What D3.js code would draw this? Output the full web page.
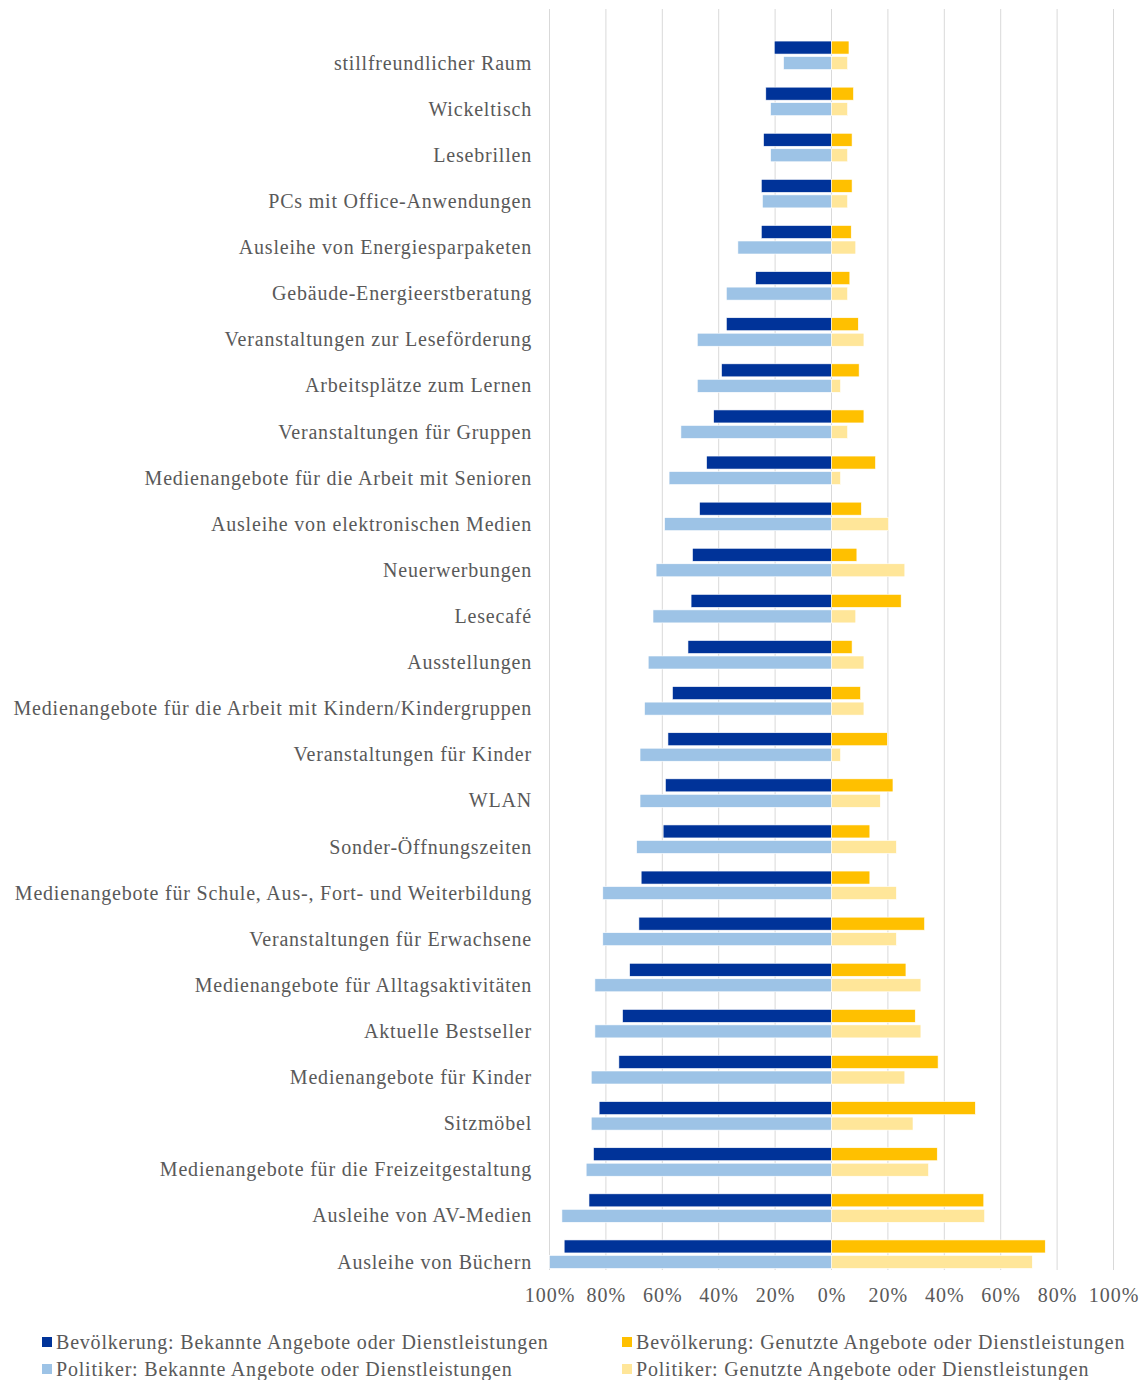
<!DOCTYPE html>
<html>
<head>
  <meta charset="utf-8">
  <title>Angebote und Dienstleistungen</title>
  <script src="https://d3js.org/d3.v7.min.js"></script>
  <style>
    body { margin: 0; background: #fff; }
    svg text { font-family: "Liberation Serif", "Times New Roman", serif; fill: #595959; letter-spacing: 0.8px; }
  </style>
</head>
<body>
  <svg width="1148" height="1380"></svg>
</body>
<script>

const categories = [
  'stillfreundlicher Raum',
  'Wickeltisch',
  'Lesebrillen',
  'PCs mit Office-Anwendungen',
  'Ausleihe von Energiesparpaketen',
  'Gebäude-Energieerstberatung',
  'Veranstaltungen zur Leseförderung',
  'Arbeitsplätze zum Lernen',
  'Veranstaltungen für Gruppen',
  'Medienangebote für die Arbeit mit Senioren',
  'Ausleihe von elektronischen Medien',
  'Neuerwerbungen',
  'Lesecafé',
  'Ausstellungen',
  'Medienangebote für die Arbeit mit Kindern/Kindergruppen',
  'Veranstaltungen für Kinder',
  'WLAN',
  'Sonder-Öffnungszeiten',
  'Medienangebote für Schule, Aus-, Fort- und Weiterbildung',
  'Veranstaltungen für Erwachsene',
  'Medienangebote für Alltagsaktivitäten',
  'Aktuelle Bestseller',
  'Medienangebote für Kinder',
  'Sitzmöbel',
  'Medienangebote für die Freizeitgestaltung',
  'Ausleihe von AV-Medien',
  'Ausleihe von Büchern'
];

// values in percent
const bevBekannt = [20.3, 23.3, 24.1, 24.9, 24.9, 26.9, 37.3, 39.0, 41.8, 44.3, 46.8, 49.3, 49.8, 50.9,
  56.4, 58.0, 58.9, 59.7, 67.5, 68.3, 71.6, 74.1, 75.4, 82.4, 84.4, 86.0, 94.8];
const polBekannt = [17.0, 21.6, 21.6, 24.5, 33.2, 37.3, 47.6, 47.6, 53.4, 57.6, 59.2, 62.2, 63.3, 65.0,
  66.3, 67.9, 67.9, 69.1, 81.1, 81.1, 83.9, 83.9, 85.2, 85.2, 87.0, 95.6, 100];
const bevGenutzt = [6.2, 7.8, 7.3, 7.3, 7.0, 6.5, 9.5, 9.8, 11.5, 15.6, 10.6, 9.0, 24.7, 7.3,
  10.3, 19.8, 21.8, 13.6, 13.6, 33.0, 26.4, 29.7, 37.8, 51.0, 37.5, 54.0, 75.8];
const polGenutzt = [5.7, 5.7, 5.7, 5.7, 8.6, 5.7, 11.5, 3.2, 5.7, 3.2, 20.2, 26.0, 8.6, 11.5,
  11.5, 3.2, 17.3, 23.0, 23.0, 23.0, 31.7, 31.7, 26.0, 28.9, 34.4, 54.3, 71.2];

const tickValues = [-100, -80, -60, -40, -20, 0, 20, 40, 60, 80, 100];

const seriesNames = [
  'Bevölkerung: Bekannte Angebote oder Dienstleistungen',
  'Bevölkerung: Genutzte Angebote oder Dienstleistungen',
  'Politiker: Bekannte Angebote oder Dienstleistungen',
  'Politiker: Genutzte Angebote oder Dienstleistungen'
];
const seriesColors = ['#003399', '#FFC000', '#9DC3E6', '#FFE699'];

let svg = d3.select('svg');

let x = d3.scaleLinear().domain([-100, 100]).range([549.5, 1113.5]);
let y = d3.scaleBand().domain(categories).range([32, 1277]);

// gridlines
svg.append('g').selectAll('line')
  .data(tickValues)
  .join('line')
  .attr('x1', d => x(d)).attr('x2', d => x(d))
  .attr('y1', 9).attr('y2', 1270)
  .style('stroke', '#d9d9d9')
  .style('stroke-width', 1);

let bars = (vals, sign, dy, color) => {
  svg.append('g').selectAll('rect')
    .data(vals)
    .join('rect')
    .attr('x', d => sign < 0 ? x(-d) : x(0))
    .attr('width', d => Math.abs(x(d) - x(0)))
    .attr('y', (d, i) => y(categories[i]) + y.bandwidth() / 2 + dy)
    .attr('height', 13)
    .style('fill', color)
    .style('stroke', '#fff')
    .style('stroke-width', 0.6);
};

bars(bevBekannt, -1, -14, seriesColors[0]);
bars(polBekannt, -1, 1.5, seriesColors[2]);
bars(bevGenutzt, 1, -14, seriesColors[1]);
bars(polGenutzt, 1, 1.5, seriesColors[3]);

// category labels
svg.append('g').selectAll('text')
  .data(categories)
  .join('text')
  .attr('x', 532)
  .attr('y', d => y(d) + y.bandwidth() / 2 + 10)
  .attr('text-anchor', 'end')
  .attr('dominant-baseline', 'middle')
  .style('font-size', '20px')
  .text(d => d);

// value axis
let axis = d3.axisBottom(x)
  .tickValues(tickValues)
  .tickSize(0)
  .tickFormat(d => Math.abs(d) + '%');

let ax = svg.append('g').attr('transform', 'translate(0,1283)').call(axis);
ax.select('.domain').remove();
ax.selectAll('text')
  .attr('dy', '0.8em')
  .style('font-size', '20px')
  .style('letter-spacing', '1px')
  .style('font-family', '"Liberation Serif", "Times New Roman", serif')
  .style('fill', '#595959');

// legend
let legendPos = [[42, 1342], [622, 1342], [42, 1369], [622, 1369]];
let lg = svg.append('g');
seriesNames.forEach((name, i) => {
  let p = legendPos[i];
  lg.append('rect')
    .attr('x', p[0]).attr('y', p[1] - 5)
    .attr('width', 10).attr('height', 10)
    .style('fill', seriesColors[i]);
  lg.append('text')
    .attr('x', p[0] + 14).attr('y', p[1] + 2)
    .attr('dominant-baseline', 'middle')
    .style('font-size', '20px')
    .text(name);
});

</script>
</html>
